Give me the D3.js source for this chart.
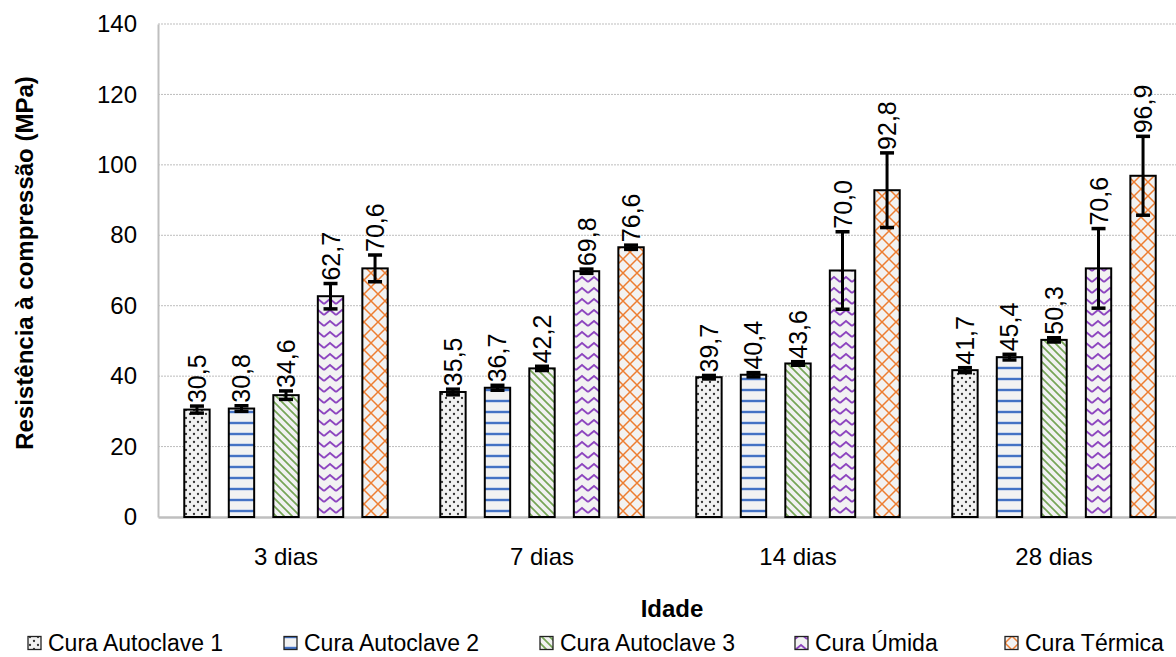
<!DOCTYPE html>
<html>
<head>
<meta charset="utf-8">
<script src="https://cdn.jsdelivr.net/npm/d3@7"></script>
<style>
  html, body { margin: 0; padding: 0; background: #fff; }
  svg { display: block; font-family: "Liberation Sans", Arial, sans-serif; }
</style>
</head>
<body>
<svg id="chart" width="1176" height="657"></svg>
<script>
// Compressive strength by curing regime and age
const ages = ["3 dias", "7 dias", "14 dias", "28 dias"];
const series = ["Cura Autoclave 1", "Cura Autoclave 2", "Cura Autoclave 3", "Cura Úmida", "Cura Térmica"];
const autoclave1 = [30.5, 35.5, 39.7, 41.7];
const autoclave2 = [30.8, 36.7, 40.4, 45.4];
const autoclave3 = [34.6, 42.2, 43.6, 50.3];
const umida      = [62.7, 69.8, 70.0, 70.6];
const termica    = [70.6, 76.6, 92.8, 96.9];
// standard deviations (error bars)
const autoclave1Err = [1.0, 0.8, 0.5, 0.7];
const autoclave2Err = [0.8, 0.7, 0.6, 0.8];
const autoclave3Err = [1.2, 0.6, 0.5, 0.6];
const umidaErr      = [3.6, 0.6, 11.0, 11.3];
const termicaErr    = [3.8, 0.6, 10.6, 11.2];
const yTicks = [0, 20, 40, 60, 80, 100, 120, 140];

const values = [autoclave1, autoclave2, autoclave3, umida, termica];
const errors = [autoclave1Err, autoclave2Err, autoclave3Err, umidaErr, termicaErr];
const patternIds = ["pDots", "pHoriz", "pDiag", "pZig", "pCross"];

const svg = d3.select("#chart");
const margin = { left: 158, top: 24, bottom: 517 };
const plotRight = 1182;
const FONT = "Liberation Sans, Arial, sans-serif";

const x0 = d3.scaleBand().domain(ages).range([margin.left, plotRight]).padding(0);
const x1 = d3.scaleBand().domain(series).range([0, x0.bandwidth()])
  .paddingInner(0.43).paddingOuter(0.59);
const y = d3.scaleLinear().domain([0, 140]).range([margin.bottom, margin.top]);

// fill patterns
const defs = svg.append("defs");
const bg = "#f2f2f2";
function pattern(id, w, h) {
  const p = defs.append("pattern").attr("id", id)
    .attr("patternUnits", "userSpaceOnUse").attr("width", w).attr("height", h);
  p.append("rect").attr("width", w).attr("height", h).attr("fill", bg);
  return p;
}
{
  const p = pattern("pDots", 8, 8);
  p.append("circle").attr("cx", 2).attr("cy", 2).attr("r", 1.15).attr("fill", "#333");
  p.append("circle").attr("cx", 6).attr("cy", 6).attr("r", 1.15).attr("fill", "#333");
}
{
  const p = pattern("pHoriz", 11, 11);
  p.append("rect").attr("x", 0).attr("y", 3.5).attr("width", 11).attr("height", 3).attr("fill", "#a9bfe6");
  p.append("rect").attr("x", 0).attr("y", 4).attr("width", 11).attr("height", 2).attr("fill", "#4472c4");
}
{
  const p = pattern("pDiag", 8, 8);
  p.append("path").attr("d", "M-2,-2 L10,10 M-2,6 L2,10 M6,-2 L10,2")
    .attr("stroke", "#76a556").attr("stroke-width", 1.7).attr("fill", "none");
}
{
  const p = pattern("pZig", 12, 11);
  p.append("path").attr("d", "M0,7 L6,2 L12,7")
    .attr("stroke", "#8d45bf").attr("stroke-width", 1.8).attr("fill", "none");
}
{
  const p = pattern("pCross", 14, 14);
  p.append("path").attr("d", "M0,0 L14,14 M14,0 L0,14")
    .attr("stroke", "#ed7d31").attr("stroke-width", 1.5).attr("fill", "none");
}

// gridlines
svg.append("g").selectAll("line").data(yTicks.filter(t => t > 0)).join("line")
  .attr("x1", margin.left).attr("x2", plotRight)
  .attr("y1", d => y(d)).attr("y2", d => y(d))
  .attr("stroke", "#bdbdbd").attr("stroke-width", 1).attr("stroke-dasharray", "2,1");

// y axis
const yAxis = svg.append("g").attr("transform", `translate(${margin.left},0)`)
  .call(d3.axisLeft(y).tickValues(yTicks).tickSize(0).tickPadding(21));
yAxis.select(".domain").attr("stroke", "#bfbfbf").attr("stroke-width", 2);
yAxis.selectAll("text").attr("font-size", 24).attr("fill", "#000").attr("font-family", FONT);

// x axis
const xAxis = svg.append("g").attr("transform", `translate(0,${margin.bottom})`)
  .call(d3.axisBottom(x0).tickSize(0).tickPadding(31));
xAxis.select(".domain").attr("stroke", "#bfbfbf").attr("stroke-width", 2.5);
xAxis.selectAll("text").attr("font-size", 24).attr("fill", "#000").attr("font-family", FONT);

// bars
const rows = [];
ages.forEach((a, i) => series.forEach((s, j) => rows.push({
  age: a, s, j, v: values[j][i], e: errors[j][i]
})));

const g = svg.append("g");
g.selectAll("rect.bar").data(rows).join("rect").attr("class", "bar")
  .attr("x", d => x0(d.age) + x1(d.s))
  .attr("y", d => y(d.v))
  .attr("width", x1.bandwidth())
  .attr("height", d => y(0) - y(d.v))
  .attr("fill", d => `url(#${patternIds[d.j]})`)
  .attr("stroke", "#000").attr("stroke-width", 2);

// error bars
const cx = d => x0(d.age) + x1(d.s) + x1.bandwidth() / 2;
const eb = g.selectAll("g.err").data(rows).join("g").attr("class", "err");
eb.append("line")
  .attr("x1", cx).attr("x2", cx)
  .attr("y1", d => y(d.v + d.e)).attr("y2", d => y(d.v - d.e))
  .attr("stroke", "#000").attr("stroke-width", 3);
[1, -1].forEach(sign => {
  eb.append("line")
    .attr("x1", d => cx(d) - 7).attr("x2", d => cx(d) + 7)
    .attr("y1", d => y(d.v + sign * d.e)).attr("y2", d => y(d.v + sign * d.e))
    .attr("stroke", "#000").attr("stroke-width", 3.5);
});

// value labels
const fmt = v => v.toFixed(1).replace(".", ",");
g.selectAll("text.val").data(rows).join("text").attr("class", "val")
  .attr("transform", d => `translate(${cx(d)},${y(d.v + d.e) - 3}) rotate(-90)`)
  .attr("dominant-baseline", "central")
  .attr("font-size", 25).attr("fill", "#000")
  .text(d => fmt(d.v));

// axis titles
svg.append("text")
  .attr("transform", `translate(24,263) rotate(-90)`)
  .attr("text-anchor", "middle").attr("dominant-baseline", "central")
  .attr("font-size", 24).attr("font-weight", "bold")
  .text("Resistência à compressão (MPa)");
svg.append("text")
  .attr("x", 672).attr("y", 617).attr("text-anchor", "middle")
  .attr("font-size", 24).attr("font-weight", "bold")
  .text("Idade");

// legend
const legendX = [28, 284, 540, 795, 1005];
const lg = svg.append("g").selectAll("g").data(series).join("g")
  .attr("transform", (d, i) => `translate(${legendX[i]},643)`);
lg.append("rect").attr("x", 0).attr("y", -6.5).attr("width", 13).attr("height", 13)
  .attr("fill", (d, i) => `url(#${patternIds[i]})`)
  .attr("stroke", "#222").attr("stroke-width", 1.3);
lg.append("text").attr("x", 20).attr("y", 8).attr("font-size", 23).text(d => d);
</script>
</body>
</html>
